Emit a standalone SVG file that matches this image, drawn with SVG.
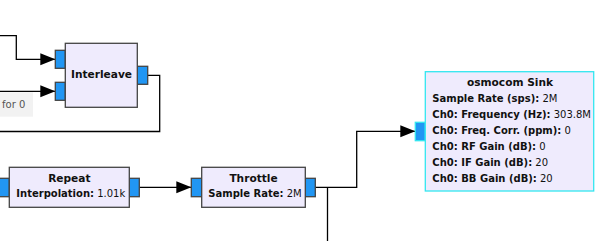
<svg xmlns="http://www.w3.org/2000/svg" width="614" height="241" viewBox="0 0 614 241">
  <defs>
    <marker id="arrow" markerWidth="16" markerHeight="14" refX="15" refY="7" orient="auto" markerUnits="userSpaceOnUse">
      <path d="M0,1 L15,7 L0,13 Z" fill="#000"/>
    </marker>
    <style>
      .blk { fill: #efebfd; stroke: #444; stroke-width: 1.3; }
      .sel { fill: #efebfd; stroke: #33e6f0; stroke-width: 1.3; }
      .port { fill: #2196f3; stroke: #444; stroke-width: 1.3; }
      .port-sel { fill: #2196f3; stroke: #33e6f0; stroke-width: 1.3; }
      .wire { fill: none; stroke: #000; stroke-width: 1.3; }
      text { font-family: "DejaVu Sans", "Noto Sans", sans-serif; font-size: 10px; fill: #111; }
      .title { font-weight: bold; text-anchor: middle; font-size: 10.6px; }
      .k { font-weight: bold; }
      .v { font-weight: normal; }
      .tag { fill: #555; }
    </style>
  </defs>

  <!-- connections -->
  <g id="connectors">
    <polyline class="wire" points="0,35.7 16.3,35.7 16.3,59.3 55.3,59.3" marker-end="url(#arrow)"/>
    <polyline class="wire" points="0,91.3 55.3,91.3" marker-end="url(#arrow)"/>
    <polyline class="wire" points="147.7,75.3 159.7,75.3 159.7,131.5 0,131.5"/>
    <polyline class="wire" points="139.3,187.3 191.3,187.3" marker-end="url(#arrow)"/>
    <polyline class="wire" points="315.5,187.3 356.7,187.3 356.7,131.3 415.3,131.3" marker-end="url(#arrow)"/>
    <polyline class="wire" points="327.5,187.3 327.5,241"/>
  </g>

  <!-- loop tag -->
  <g id="tag-for0">
    <rect x="0" y="92.3" width="33" height="24.4" fill="#f2f2f2"/>
    <text class="tag" x="2" y="107.5">for 0</text>
  </g>

  <!-- Interleave -->
  <g id="interleave">
    <rect class="port" x="55.3" y="50.3" width="10" height="18"/>
    <rect class="port" x="55.3" y="82.3" width="10" height="18"/>
    <rect class="port" x="137.3" y="66.3" width="10.4" height="18"/>
    <rect class="blk" x="65.3" y="43.3" width="72" height="64"/>
    <text class="title" x="101.5" y="77.5">Interleave</text>
  </g>

  <!-- Repeat -->
  <g id="repeat">
    <rect class="port" x="-2" y="178.3" width="11.3" height="18.4"/>
    <rect class="port" x="129.3" y="178.3" width="10" height="18.4"/>
    <rect class="blk" x="9.3" y="167.3" width="120" height="40"/>
    <text class="title" x="69.3" y="181.7">Repeat</text>
    <text x="16.3" y="197"><tspan class="k">Interpolation:</tspan><tspan class="v"> 1.01k</tspan></text>
  </g>

  <!-- Throttle -->
  <g id="throttle">
    <rect class="port" x="191.3" y="178.3" width="10.4" height="18.4"/>
    <rect class="port" x="305.3" y="178.3" width="10" height="18.4"/>
    <rect class="blk" x="201.7" y="167.3" width="103.6" height="40"/>
    <text class="title" x="253.5" y="181.7">Throttle</text>
    <text x="208.3" y="197"><tspan class="k">Sample Rate:</tspan><tspan class="v"> 2M</tspan></text>
  </g>

  <!-- osmocom Sink -->
  <g id="osmocom-sink">
    <rect class="port-sel" x="415.3" y="122.3" width="10" height="18.4"/>
    <rect class="sel" x="425.3" y="71.7" width="168.4" height="119.3"/>
    <text class="title" x="510" y="85.7">osmocom Sink</text>
    <text x="432.3" y="101.7"><tspan class="k">Sample Rate (sps):</tspan><tspan class="v"> 2M</tspan></text>
    <text x="432.3" y="117.7"><tspan class="k">Ch0: Frequency (Hz):</tspan><tspan class="v"> 303.8M</tspan></text>
    <text x="432.3" y="133.7"><tspan class="k">Ch0: Freq. Corr. (ppm):</tspan><tspan class="v"> 0</tspan></text>
    <text x="432.3" y="149.7"><tspan class="k">Ch0: RF Gain (dB):</tspan><tspan class="v"> 0</tspan></text>
    <text x="432.3" y="165.7"><tspan class="k">Ch0: IF Gain (dB):</tspan><tspan class="v"> 20</tspan></text>
    <text x="432.3" y="181.7"><tspan class="k">Ch0: BB Gain (dB):</tspan><tspan class="v"> 20</tspan></text>
  </g>
</svg>
